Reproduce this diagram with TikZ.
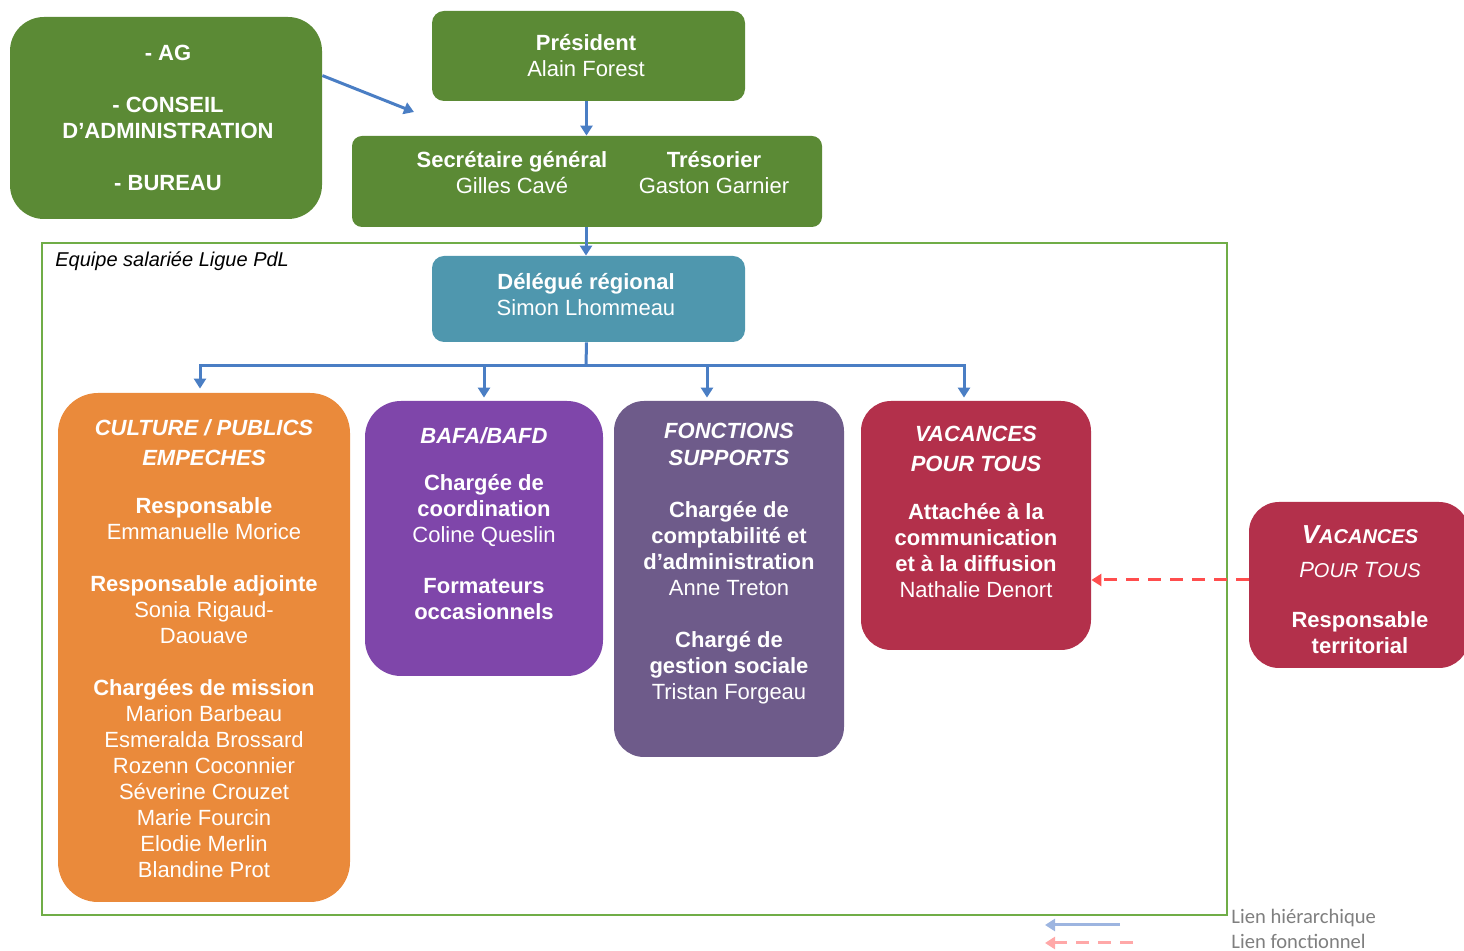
\documentclass[tikz,border=0pt]{standalone}
\usepackage{fontspec}
\setmainfont{Liberation Sans}
\newfontfamily\legfont{Carlito}
\usetikzlibrary{arrows.meta,calc}
\definecolor{cgreen}{HTML}{5B8A35}
\definecolor{cteal}{HTML}{4F97AE}
\definecolor{corange}{HTML}{EA8A3B}
\definecolor{cpurple}{HTML}{7F46AA}
\definecolor{cgpurple}{HTML}{6E5B8A}
\definecolor{cred}{HTML}{B3304B}
\definecolor{cblue}{HTML}{4A7EC4}
\definecolor{cframe}{HTML}{70AD47}
\definecolor{cdash}{HTML}{FF4D4D}
\definecolor{clblue}{HTML}{9DB5E0}
\definecolor{clred}{HTML}{FFA8A8}
\definecolor{cgrey}{HTML}{7F7F7F}
\tikzset{
  box/.style={rectangle, draw=none, inner sep=0pt},
  txt/.style={text=white, align=center, font=\fontsize{11}{13}\selectfont},
  conn/.style={draw=cblue, line width=1.5pt},
  arr/.style={conn, -{Triangle[length=5pt,width=6pt]}},
  fdash/.style={draw=cdash, line width=1.5pt, dash pattern=on 6.5pt off 4.5pt, -{Triangle[length=5pt,width=6pt]}},
}
\begin{document}
\begin{tikzpicture}[x=0.5pt,y=-0.5pt]
\useasboundingbox (0,0) rectangle (1464,951);
\clip (0,0) rectangle (1464,951);
% frame
\draw[cframe, line width=0.75pt] (42,243) rectangle (1227,915);
\node[anchor=west, font=\fontsize{10}{12}\selectfont\itshape, inner sep=0pt] (eq) at (55,261) {Equipe salariée Ligue PdL};
% boxes
\node[box, fill=cgreen, rounded corners=17pt, minimum width=156pt, minimum height=101pt] (ag) at (166,118) {};
\node[txt, font=\fontsize{11}{13}\selectfont\bfseries] (agt) at (168,118) {- AG\\[13pt]- CONSEIL\\D’ADMINISTRATION\\[13pt]- BUREAU};
\node[box, fill=cgreen, rounded corners=6pt, minimum width=156.5pt, minimum height=45pt] (pres) at (588.5,56) {};
\node[txt] (prest) at (586,56) {\textbf{Président}\\Alain Forest};
\node[box, fill=cgreen, rounded corners=5pt, minimum width=235pt, minimum height=45.5pt] (sec) at (587,181.5) {};
\node[txt] (sgt) at (512,173) {\textbf{Secrétaire général}\\Gilles Cavé};
\node[txt] (trt) at (714,173) {\textbf{Trésorier}\\Gaston Garnier};
\node[box, fill=cteal, rounded corners=6pt, minimum width=156.5pt, minimum height=43pt] (deleg) at (588.5,299) {};
\node[txt] (delegt) at (586,295) {\textbf{Délégué régional}\\Simon Lhommeau};
\node[box, fill=corange, rounded corners=20pt, minimum width=146pt, minimum height=254.5pt] (cult) at (204,647.5) {};
\node[txt] (cultt) at (204,649) {\textbf{\textit{CULTURE / PUBLICS}}\\[2pt]\textbf{\textit{EMPECHES}}\\[11pt]\textbf{Responsable}\\Emmanuelle Morice\\[13pt]\textbf{Responsable adjointe}\\Sonia Rigaud-\\Daouave\\[13pt]\textbf{Chargées de mission}\\Marion Barbeau\\Esmeralda Brossard\\Rozenn Coconnier\\Séverine Crouzet\\Marie Fourcin\\Elodie Merlin\\Blandine Prot};
\node[box, fill=cpurple, rounded corners=18pt, minimum width=119pt, minimum height=137.5pt] (bafa) at (484,538.5) {};
\node[txt] (bafat) at (484,524) {\textbf{\textit{BAFA/BAFD}}\\[10.5pt]\textbf{Chargée de}\\\textbf{coordination}\\Coline Queslin\\[12.5pt]\textbf{Formateurs}\\\textbf{occasionnels}};
\node[box, fill=cgpurple, rounded corners=15pt, minimum width=115pt, minimum height=178pt] (fonc) at (729,579) {};
\node[txt] (ienct) at (729,564) {\textbf{\textit{FONCTIONS}}\\[0.5pt]\textbf{\textit{SUPPORTS}}\\[13pt]\textbf{Chargée de}\\\textbf{comptabilité et}\\\textbf{d’administration}\\Anne Treton\\[13pt]\textbf{Chargé de}\\\textbf{gestion sociale}\\Tristan Forgeau};
\node[box, fill=cred, rounded corners=15pt, minimum width=115pt, minimum height=124.5pt] (vac) at (976,525.5) {};
\node[txt] (vact) at (976,512) {\textbf{\textit{VACANCES}}\\[2pt]\textbf{\textit{POUR TOUS}}\\[11pt]\textbf{Attachée à la}\\\textbf{communication}\\\textbf{et à la diffusion}\\Nathalie Denort};
\node[box, fill=cred, rounded corners=15pt, minimum width=110pt, minimum height=83pt] (vpt) at (1359,585) {};
\node[txt] (vptt) at (1360,590) {\textbf{\textit{{\fontsize{13}{13}\selectfont V}{\fontsize{10}{13}\selectfont ACANCES}}}\\[4pt]\textit{{\fontsize{11}{13}\selectfont P}{\fontsize{10}{13}\selectfont OUR }{\fontsize{11}{13}\selectfont T}{\fontsize{10}{13}\selectfont OUS}}\\[12pt]\textbf{Responsable}\\\textbf{territorial}};
% connectors
\draw[arr] (pres.south) ++(-2,0) coordinate (p1) -- (p1 |- sec.north);
\draw[arr] (sec.south) ++(-1,0) coordinate (s1) -- (s1 |- deleg.north);
\coordinate (bar) at (586,366);
\draw[conn] (deleg.south) ++(-2,0) coordinate (d0) -- (bar);
\draw[arr, shorten >=2pt] (bar) -| ($(cult.north)+(-4,0)$);
\draw[arr, shorten >=1.5pt] (bar) -| (bafa.north);
\draw[arr, shorten >=1.5pt] (bar) -| ($(fonc.north)+(-22,0)$);
\draw[arr, shorten >=1.5pt] (bar) -| ($(vac.north)+(-12,0)$);
\coordinate (agend) at (414,112);
\draw[arr] ($(ag.north east)+(0,59)$) -- (agend);
\draw[fdash] ($(vpt.west)+(0,-5)$) coordinate (v1) -- (v1 -| vac.east);
% legend
\coordinate (lh1) at (1120,925);
\coordinate (lh2) at (1045,925);
\coordinate (lf1) at (1133,943);
\coordinate (lf2) at (1045,943);
\draw[draw=clblue, line width=1.5pt, -{Triangle[length=5pt,width=6pt]}] (lh1) -- (lh2);
\draw[draw=clred, line width=1.5pt, dash pattern=on 6.5pt off 4.5pt, -{Triangle[length=5pt,width=6pt]}] (lf1) -- (lf2);
\node[anchor=west, inner sep=0pt, text=cgrey, font=\legfont\fontsize{10.3}{11}\selectfont] (leg1) at (1231,918) {Lien hiérarchique};
\node[anchor=west, inner sep=0pt, text=cgrey, font=\legfont\fontsize{10.3}{11}\selectfont] (leg2) at (1231,941) {Lien fonctionnel};
\end{tikzpicture}
\end{document}
